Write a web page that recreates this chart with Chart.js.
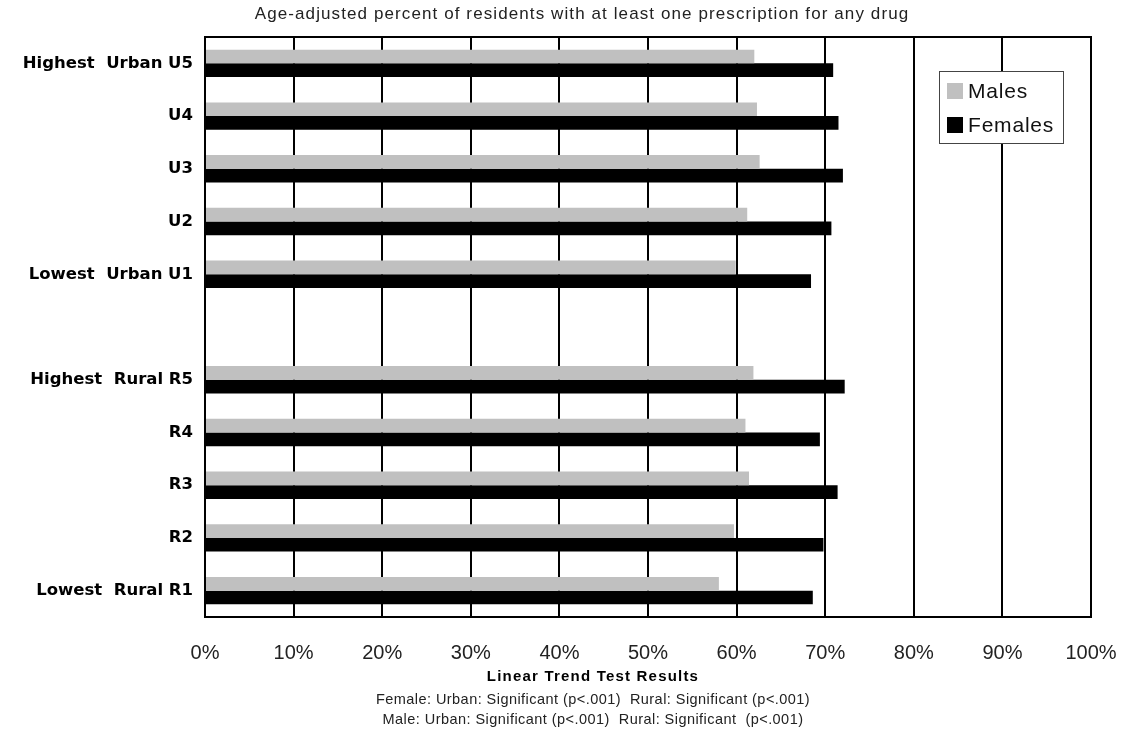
<!DOCTYPE html>
<html>
<head>
<meta charset="utf-8">
<script src="https://cdn.jsdelivr.net/npm/chart.js@4.4.1/dist/chart.umd.min.js"></script>
<style>
  html, body { margin: 0; padding: 0; background: #fff; }
  #wrap { width: 1125px; height: 740px; position: relative; }
</style>
</head>
<body>
<div id="wrap"><canvas id="rxChart"></canvas></div>
<script>
// categories (top to bottom), empty slot = gap between urban and rural groups
const categories = [
  'Highest  Urban U5', 'U4', 'U3', 'U2', 'Lowest  Urban U1',
  '',
  'Highest  Rural R5', 'R4', 'R3', 'R2', 'Lowest  Rural R1'
];

// percent of residents with at least one prescription
const malesValues   = [62.0, 62.3, 62.6, 61.2, 59.9, null, 61.9, 61.0, 61.4, 59.7, 58.0];
const femalesValues = [70.9, 71.5, 72.0, 70.7, 68.4, null, 72.2, 69.4, 71.4, 69.8, 68.6];

const seriesLabels = ['Males', 'Females'];
const seriesColors = ['#c0c0c0', '#000000'];

const xTicks = [0, 10, 20, 30, 40, 50, 60, 70, 80, 90, 100];

const topTitle = 'Age-adjusted percent of residents with at least one prescription for any drug';
const noteTitle = 'Linear Trend Test Results';
const noteLines = [
  'Female: Urban: Significant (p<.001)  Rural: Significant (p<.001)',
  'Male: Urban: Significant (p<.001)  Rural: Significant  (p<.001)'
];

// frame, legend box and text around the plot
const extrasPlugin = {
  id: 'extras',
  afterDraw(chart) {
    const { ctx, chartArea } = chart;
    ctx.save();

    // frame
    ctx.strokeStyle = '#000';
    ctx.lineWidth = 2;
    ctx.strokeRect(chartArea.left, chartArea.top, chartArea.right - chartArea.left, chartArea.bottom - chartArea.top);

    // legend inside the plot
    const bx = 939, by = 71, bw = 124, bh = 72;
    ctx.fillStyle = '#fff';
    ctx.fillRect(bx, by, bw, bh);
    ctx.strokeStyle = '#444';
    ctx.lineWidth = 1;
    ctx.strokeRect(bx + 0.5, by + 0.5, bw, bh);
    ctx.font = '21px "Liberation Sans", Arial, sans-serif';
    ctx.letterSpacing = '0.8px';
    ctx.textBaseline = 'middle';
    chart.data.datasets.forEach((ds, i) => {
      const yy = by + 20 + i * 34;
      ctx.fillStyle = ds.backgroundColor;
      ctx.fillRect(bx + 8, yy - 8, 16, 16);
      ctx.fillStyle = '#111';
      ctx.textAlign = 'left';
      ctx.fillText(ds.label, bx + 29, yy + 1);
    });

    // top caption
    ctx.fillStyle = '#222';
    ctx.textAlign = 'center';
    ctx.font = '17px "Liberation Sans", Arial, sans-serif';
    ctx.letterSpacing = '1.1px';
    ctx.fillText(topTitle, 582, 14);

    // notes below the axis
    ctx.fillStyle = '#000';
    ctx.font = 'bold 15px "Liberation Sans", Arial, sans-serif';
    ctx.letterSpacing = '1.2px';
    ctx.fillText(noteTitle, 593, 677);
    ctx.fillStyle = '#222';
    ctx.font = '14.5px "Liberation Sans", Arial, sans-serif';
    ctx.letterSpacing = '0.45px';
    noteLines.forEach((t, i) => ctx.fillText(t, 593, 700 + i * 20));

    ctx.restore();
  }
};

const ctx = document.getElementById('rxChart').getContext('2d');

new Chart(ctx, {
  type: 'bar',
  data: {
    labels: categories,
    datasets: [
      { label: seriesLabels[0], data: malesValues, backgroundColor: seriesColors[0] },
      { label: seriesLabels[1], data: femalesValues, backgroundColor: seriesColors[1] }
    ]
  },
  options: {
    indexAxis: 'y',
    responsive: true,
    maintainAspectRatio: false,
    animation: false,
    categoryPercentage: 0.52,
    barPercentage: 1.0,
    layout: { padding: { top: 37, right: 34, bottom: 0, left: 0 } },
    plugins: {
      legend: { display: false },
      title: { display: false },
      tooltip: { enabled: false }
    },
    scales: {
      x: {
        min: 0,
        max: 100,
        afterBuildTicks: (scale) => { scale.ticks = xTicks.map(v => ({ value: v })); },
        afterFit: (scale) => {
          scale.height = 123;
          scale.paddingLeft = 0;
          scale.paddingRight = 0;
        },
        ticks: {
          padding: 24,
          maxRotation: 0,
          autoSkip: false,
          color: '#222',
          font: { family: '"Liberation Sans", Arial, sans-serif', size: 20 },
          callback: (v) => v + '%'
        },
        grid: { color: '#000', lineWidth: 2, drawTicks: false },
        border: { display: true, color: '#000', width: 2 }
      },
      y: {
        afterFit: (scale) => { scale.width = 205; },
        ticks: {
          padding: 12,
          autoSkip: false,
          color: '#000',
          font: { family: '"DejaVu Sans", sans-serif', size: 16.5, weight: 'bold' }
        },
        grid: { display: false, drawTicks: false },
        border: { display: true, color: '#000', width: 2 }
      }
    }
  },
  plugins: [extrasPlugin]
});
</script>
</body>
</html>
